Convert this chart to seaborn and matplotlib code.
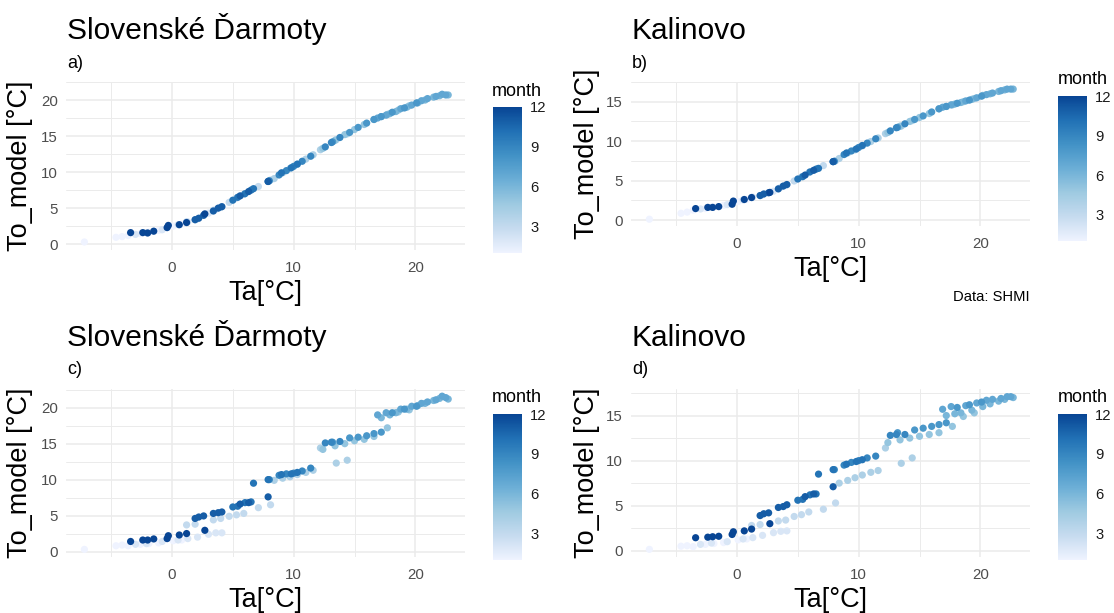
import pandas as pd
import numpy as np
import matplotlib.pyplot as plt
import matplotlib as mpl
import seaborn as sns
from matplotlib.colors import LinearSegmentedColormap, Normalize

# Monthly points: air temperature and modelled water temperature
month = [
    1, 1, 1, 1, 1, 1, 1, 1, 1,
    2, 2, 2, 2, 2, 2, 2, 2, 2,
    3, 3, 3, 3, 3, 3, 3, 3, 3,
    4, 4, 4, 4, 4, 4, 4, 4, 4,
    5, 5, 5, 5, 5, 5, 5, 5, 5,
    6, 6, 6, 6, 6, 6, 6, 6, 6,
    7, 7, 7, 7, 7, 7, 7, 7, 7,
    8, 8, 8, 8, 8, 8, 8, 8, 8,
    9, 9, 9, 9, 9, 9, 9, 9, 9,
    10, 10, 10, 10, 10, 10, 10, 10, 10,
    11, 11, 11, 11, 11, 11, 11, 11, 11,
    12, 12, 12, 12, 12, 12, 12, 12, 12,
]
ta = [
    -7.2, -4.6, -4.1, -3.6, -2.6, -1.9, -1.1, 0.1, 0.8,
    -3.0, -2.1, -0.8, 0.5, 1.3, 2.1, 3.0, 3.6, 4.1,
    1.2, 1.9, 3.4, 4.0, 4.7, 5.3, 5.9, 7.1, 8.1,
    8.4, 9.1, 9.7, 10.3, 11.0, 11.6, 12.2, 13.5, 14.4,
    12.4, 13.4, 14.2, 15.0, 15.8, 16.6, 17.7, 18.6, 19.5,
    17.2, 17.9, 18.4, 19.3, 20.2, 20.8, 21.5, 22.0, 22.7,
    16.9, 17.6, 18.8, 19.7, 20.5, 21.0, 21.7, 22.2, 22.5,
    13.2, 14.6, 15.3, 16.0, 16.6, 17.2, 18.1, 19.1, 20.1,
    8.0, 8.8, 9.4, 10.0, 10.7, 11.4, 12.6, 13.1, 13.8,
    5.0, 5.4, 6.0, 6.5, 6.7, 7.9, 9.0, 9.8, 10.3,
    1.9, 2.2, 2.6, 3.4, 3.8, 4.1, 5.6, 6.3, 7.9,
    -3.4, -2.4, -2.0, -1.5, -0.4, -0.3, 0.6, 1.2, 2.7,
]
# a) Slovenske Darmoty, single model
to_a = [
    0.3, 0.95, 1.05, 1.2, 1.45, 1.65, 1.9, 2.5, 2.8,
    1.35, 1.6, 2.0, 2.7, 3.1, 3.5, 4.3, 4.8, 5.2,
    3.1, 3.35, 4.7, 5.1, 5.8, 6.4, 6.9, 8.0, 8.9,
    9.1, 9.9, 10.5, 11.1, 11.8, 12.4, 13.1, 14.5, 15.3,
    13.3, 14.4, 15.2, 15.9, 16.6, 17.3, 18.0, 18.6, 19.2,
    17.7, 18.1, 18.4, 19.0, 19.6, 20.0, 20.4, 20.6, 20.7,
    17.5, 17.9, 18.8, 19.3, 19.9, 20.2, 20.5, 20.8, 20.7,
    14.2, 15.5, 16.2, 16.8, 17.3, 17.7, 18.3, 18.9, 19.6,
    8.8, 9.6, 10.2, 10.8, 11.5, 12.2, 13.5, 14.1, 14.8,
    6.1, 6.5, 7.0, 7.5, 7.7, 8.7, 9.9, 10.6, 11.1,
    3.4, 3.6, 4.0, 4.6, 5.0, 5.2, 6.7, 7.3, 8.7,
    1.6, 1.6, 1.55, 1.8, 2.3, 2.6, 2.7, 3.0, 4.2,
]
# b) Kalinovo, single model
to_b = [
    0.1, 0.85, 1.0, 1.25, 1.45, 1.65, 1.85, 2.35, 2.6,
    1.4, 1.6, 1.95, 2.55, 2.9, 3.2, 3.65, 4.15, 4.45,
    2.85, 3.1, 3.95, 4.4, 4.95, 5.45, 6.0, 6.9, 7.5,
    7.8, 8.5, 8.9, 9.4, 9.95, 10.4, 10.95, 11.9, 12.6,
    11.1, 11.9, 12.5, 13.0, 13.5, 14.1, 14.6, 15.0, 15.4,
    14.4, 14.7, 14.9, 15.3, 15.8, 16.0, 16.3, 16.5, 16.6,
    14.3, 14.6, 15.1, 15.5, 15.9, 16.1, 16.4, 16.6, 16.6,
    11.75, 12.75, 13.2, 13.7, 14.1, 14.4, 14.8, 15.2, 15.7,
    7.45, 8.3, 8.75, 9.2, 9.75, 10.3, 11.3, 11.7, 12.2,
    5.2, 5.5, 6.1, 6.45, 6.55, 7.4, 8.5, 9.0, 9.45,
    3.1, 3.3, 3.45, 3.95, 4.3, 4.5, 5.7, 6.3, 7.4,
    1.45, 1.6, 1.6, 1.7, 2.0, 2.4, 2.6, 2.85, 3.5,
]
# c) Slovenske Darmoty, monthly model
to_c = [
    0.3, 0.8, 0.9, 0.8, 1.0, 1.1, 1.2, 1.5, 1.6,
    1.0, 1.1, 1.4, 1.6, 1.8, 2.0, 2.4, 2.6, 2.6,
    3.7, 3.8, 4.4, 4.6, 4.9, 5.1, 5.3, 6.1, 6.5,
    9.9, 10.2, 10.4, 10.7, 11.0, 11.3, 14.4, 12.3, 12.7,
    14.2, 14.7, 15.0, 15.4, 15.6, 16.0, 17.2, 19.4, 19.7,
    18.6, 19.0, 19.3, 19.8, 20.3, 20.6, 21.0, 21.3, 21.2,
    19.0, 19.3, 19.8, 20.2, 20.6, 20.8, 21.1, 21.6, 21.4,
    15.2, 15.8, 15.9, 16.1, 16.4, 16.6, 19.3, 19.8, 20.2,
    10.0, 10.6, 10.8, 10.9, 11.2, 11.6, 15.1, 15.2, 15.3,
    6.2, 6.3, 6.8, 6.9, 9.5, 10.0, 10.7, 10.8, 11.0,
    4.6, 4.8, 4.95, 5.3, 5.4, 5.5, 6.6, 6.8, 7.6,
    1.4, 1.6, 1.6, 1.75, 1.8, 2.2, 2.3, 2.5, 2.95,
]
# d) Kalinovo, monthly model
to_d = [
    0.15, 0.5, 0.55, 0.45, 0.7, 0.8, 0.9, 1.2, 1.3,
    0.7, 0.85, 1.0, 1.3, 1.45, 1.7, 2.0, 2.15, 2.2,
    2.8, 2.9, 3.3, 3.4, 3.8, 4.0, 4.3, 4.6, 5.3,
    7.5, 7.8, 8.1, 8.4, 8.7, 8.9, 11.4, 9.7, 10.3,
    12.0, 12.3, 12.5, 12.7, 12.9, 13.1, 13.8, 14.9, 15.3,
    15.0, 15.2, 15.3, 15.6, 16.0, 16.3, 16.6, 16.8, 17.0,
    15.7, 16.0, 16.1, 16.4, 16.7, 16.8, 16.9, 17.1, 17.1,
    13.1, 13.4, 13.6, 13.8, 14.0, 14.2, 15.9, 16.2, 16.5,
    9.0, 9.5, 9.8, 10.0, 10.3, 10.5, 12.8, 12.9, 12.9,
    5.6, 5.7, 6.2, 6.3, 8.5, 9.0, 9.6, 9.9, 10.1,
    3.9, 4.1, 4.2, 4.8, 4.9, 5.1, 6.0, 6.3, 7.1,
    1.44, 1.5, 1.55, 1.6, 1.8, 2.1, 2.2, 2.4, 3.0,
]

df = pd.DataFrame({'month': month, 'Ta': ta, 'a': to_a, 'b': to_b, 'c': to_c, 'd': to_d})

sns.set_style('white')
plt.rcParams['font.family'] = ['Liberation Sans', 'DejaVu Sans']
plt.rcParams['text.color'] = 'black'

blues = LinearSegmentedColormap.from_list(
    'blues7', ['#EFF3FF', '#C6DBEF', '#9ECAE1', '#6BAED6', '#4292C6', '#2171B5', '#084594'])
norm = Normalize(vmin=1, vmax=12)

W, H = 1114, 613
fig = plt.figure(figsize=(W / 100, H / 100), dpi=100)


def rect(l, t, r, b):
    return [l / W, 1 - b / H, (r - l) / W, (b - t) / H]


panels = [
    # col, title, tag, plot box, ylim, yticks, colorbar box, month label (x, y), ylabel x
    ('a', 'Slovenské Ďarmoty', 'a)', (66, 82, 465, 250), (-0.81, 21.74), [0, 5, 10, 15, 20],
     (493, 107, 522, 253), (492, 92), 20),
    ('b', 'Kalinovo', 'b)', (631, 82, 1030, 226), (-0.76, 17.43), [0, 5, 10, 15],
     (1058, 96, 1087, 241), (1058, 79), 587),
    ('c', 'Slovenské Ďarmoty', 'c)', (66, 389, 465, 557), (-0.76, 22.6), [0, 5, 10, 15, 20],
     (493, 414, 522, 560), (492, 398), 20),
    ('d', 'Kalinovo', 'd)', (631, 389, 1030, 557), (-0.7, 17.95), [0, 5, 10, 15],
     (1058, 414, 1087, 560), (1058, 398), 587),
]

for col, title, tag, box, ylim, yticks, cbox, mpos, ylx in panels:
    l, t, r, b = box
    ax = fig.add_axes(rect(l, t, r, b))
    sns.scatterplot(data=df, x='Ta', y=col, hue='month', palette=blues, hue_norm=(1, 12),
                    s=27, linewidth=0, legend=False, ax=ax, zorder=3)
    ax.set_xlim(-8.71, 24.08)
    ax.set_ylim(*ylim)
    ax.set_xticks([0, 10, 20])
    ax.set_xticks([-5, 5, 15], minor=True)
    ax.set_yticks(yticks)
    ax.set_yticks([v + 2.5 for v in yticks], minor=True)
    ax.grid(True, which='major', color='#EBEBEB', linewidth=1.1)
    ax.grid(True, which='minor', color='#EBEBEB', linewidth=0.7)
    ax.set_axisbelow(True)
    for s in ax.spines.values():
        s.set_visible(False)
    ax.tick_params(which='both', length=0, labelsize=10.8, labelcolor='#4D4D4D')
    ax.tick_params(axis='x', pad=8)
    ax.tick_params(axis='y', pad=6)
    ax.set_xlabel('')
    ax.set_ylabel('')

    fig.text((l + 1) / W, 1 - (t - 43) / H, title, fontsize=21.5, ha='left', va='baseline')
    fig.text((l + 1) / W, 1 - (t - 19) / H, tag, fontsize=13, ha='left', va='center')
    fig.text(ylx / W, 1 - ((t + b) / 2) / H, 'To_model [°C]', fontsize=19.5,
             rotation=90, ha='center', va='center')
    fig.text(((l + r) / 2) / W, 1 - (b + 43) / H, 'Ta[°C]', fontsize=19.5,
             ha='center', va='center')

    cax = fig.add_axes(rect(*cbox))
    sm = mpl.cm.ScalarMappable(norm=norm, cmap=blues)
    cb = fig.colorbar(sm, cax=cax, ticks=[3, 6, 9, 12])
    cb.outline.set_visible(False)
    cax.tick_params(axis='y', direction='in', color='white', length=4, width=1,
                    left=True, right=True, labelsize=10.6, labelcolor='#1A1A1A', pad=6)
    fig.text(mpos[0] / W, 1 - mpos[1] / H, 'month', fontsize=13, ha='left', va='center')

fig.text(1030 / W, 1 - 297 / H, 'Data: SHMI', fontsize=10.6, ha='right', va='center')

fig.savefig('out.png', dpi=100)
